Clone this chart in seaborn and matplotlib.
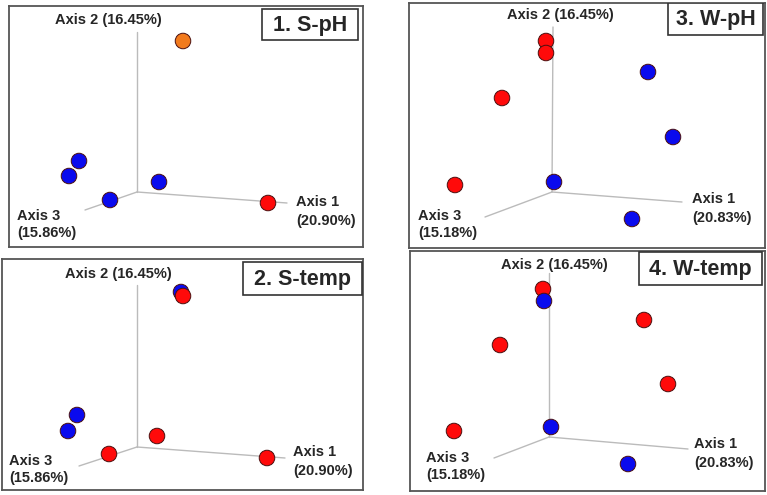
import numpy as np
import pandas as pd
import seaborn as sb
import matplotlib.pyplot as plt

sb.set_style("white")
plt.rcParams['font.family'] = ['Liberation Sans', 'DejaVu Sans']

W, H = 767, 495

# panel boxes in picture pixels: left, top, right, bottom
boxes = {
    "1. S-pH": (9, 6, 363, 247),
    "2. S-temp": (2, 259, 363, 490),
    "3. W-pH": (409, 3, 765, 248),
    "4. W-temp": (410, 251, 765, 491),
}

# title boxes (left, top, right, bottom)
title_boxes = {
    "1. S-pH": (262, 9, 358, 40),
    "2. S-temp": (243, 262, 362, 295),
    "3. W-pH": (668, 3, 763, 35),
    "4. W-temp": (639, 252, 762, 285),
}

# projected ordination axes: origin, axis 2 top, axis 1 end, axis 3 end
axes_origin = {
    "1. S-pH": (137, 192), "2. S-temp": (137, 447),
    "3. W-pH": (552, 192), "4. W-temp": (549, 437),
}
axis2_end = {
    "1. S-pH": (137, 32), "2. S-temp": (137, 285),
    "3. W-pH": (553, 27), "4. W-temp": (549, 273),
}
axis1_end = {
    "1. S-pH": (287, 203), "2. S-temp": (285, 458),
    "3. W-pH": (682, 202), "4. W-temp": (688, 449),
}
axis3_end = {
    "1. S-pH": (85, 210), "2. S-temp": (79, 466),
    "3. W-pH": (485, 217), "4. W-temp": (494, 458),
}

axis1_pct = {"1. S-pH": "20.90%", "2. S-temp": "20.90%", "3. W-pH": "20.83%", "4. W-temp": "20.83%"}
axis2_pct = {"1. S-pH": "16.45%", "2. S-temp": "16.45%", "3. W-pH": "16.45%", "4. W-temp": "16.45%"}
axis3_pct = {"1. S-pH": "15.86%", "2. S-temp": "15.86%", "3. W-pH": "15.18%", "4. W-temp": "15.18%"}

# label anchors: axis2 label centre, axis1 label left, axis3 label left
axis2_lab = {"1. S-pH": (108, 20), "2. S-temp": (118, 274), "3. W-pH": (560, 15), "4. W-temp": (554, 265)}
axis1_lab = {"1. S-pH": (296, 202), "2. S-temp": (293, 452), "3. W-pH": (692, 199), "4. W-temp": (694, 444)}
axis3_lab = {"1. S-pH": (17, 216), "2. S-temp": (9, 461), "3. W-pH": (418, 216), "4. W-temp": (426, 458)}

# sample scores (projected, picture pixels)
s_ph_x = [183, 79, 69, 159, 110, 268]
s_ph_y = [41, 161, 176, 182, 200, 203]
s_ph_g = ["mix", "B", "B", "B", "B", "A"]

s_temp_x = [181, 183, 77, 68, 157, 109, 267]
s_temp_y = [292, 296, 415, 431, 436, 454, 458]
s_temp_g = ["B", "A", "B", "B", "A", "A", "A"]

w_ph_x = [546, 546, 502, 455, 648, 673, 554, 632]
w_ph_y = [41, 53, 98, 185, 72, 137, 182, 219]
w_ph_g = ["A", "A", "A", "A", "B", "B", "B", "B"]

w_temp_x = [543, 644, 500, 668, 454, 544, 551, 628]
w_temp_y = [289, 320, 345, 384, 431, 301, 427, 464]
w_temp_g = ["A", "A", "A", "A", "A", "B", "B", "B"]

points = {
    "1. S-pH": (s_ph_x, s_ph_y, s_ph_g),
    "2. S-temp": (s_temp_x, s_temp_y, s_temp_g),
    "3. W-pH": (w_ph_x, w_ph_y, w_ph_g),
    "4. W-temp": (w_temp_x, w_temp_y, w_temp_g),
}

palette = {"A": "#ff0a0a", "B": "#0a0aee", "mix": "#f27a1c"}

fig = plt.figure(figsize=(W / 100, H / 100), dpi=100)

for name, (l, t, r, b) in boxes.items():
    ax = fig.add_axes([l / W, 1 - b / H, (r - l) / W, (b - t) / H])
    ax.set_xlim(l, r)
    ax.set_ylim(b, t)
    ax.set_xticks([])
    ax.set_yticks([])
    for sp in ax.spines.values():
        sp.set_color("#555555")
        sp.set_linewidth(1.3)

    # projected axes
    ox, oy = axes_origin[name]
    for ex, ey in (axis2_end[name], axis1_end[name], axis3_end[name]):
        ax.plot([ox, ex], [oy, ey], color="#bbbbbb", lw=1.0, zorder=1)

    xs, ys, gs = points[name]
    df = pd.DataFrame({"x": xs, "y": ys, "g": gs})
    sb.scatterplot(data=df, x="x", y="y", hue="g", palette=palette, s=125,
                   edgecolor="#4a1010", linewidth=0.7, legend=False, ax=ax, zorder=3)
    ax.set_xlabel("")
    ax.set_ylabel("")

    # axis labels
    fs = 10.5
    ax.text(*axis2_lab[name], "Axis 2 (" + axis2_pct[name] + ")", ha="center", va="center",
            fontsize=fs, fontweight="bold")
    x1, y1 = axis1_lab[name]
    ax.text(x1, y1, "Axis 1", ha="left", va="center", fontsize=fs, fontweight="bold")
    ax.text(x1, y1 + 19, "(" + axis1_pct[name] + ")", ha="left", va="center", fontsize=fs, fontweight="bold")
    x3, y3 = axis3_lab[name]
    ax.text(x3, y3, "Axis 3", ha="left", va="center", fontsize=fs, fontweight="bold")
    ax.text(x3, y3 + 17, "(" + axis3_pct[name] + ")", ha="left", va="center", fontsize=fs, fontweight="bold")

    # panel title box
    tl, tt, tr, tb = title_boxes[name]
    ax.add_patch(plt.Rectangle((tl, tt), tr - tl, tb - tt, facecolor="white",
                               edgecolor="#333333", lw=1.2, zorder=4))
    ax.text((tl + tr) / 2, (tt + tb) / 2 + 1, name, ha="center", va="center",
            fontsize=15.5, fontweight="bold", zorder=5)

plt.savefig("out.png", dpi=100)
